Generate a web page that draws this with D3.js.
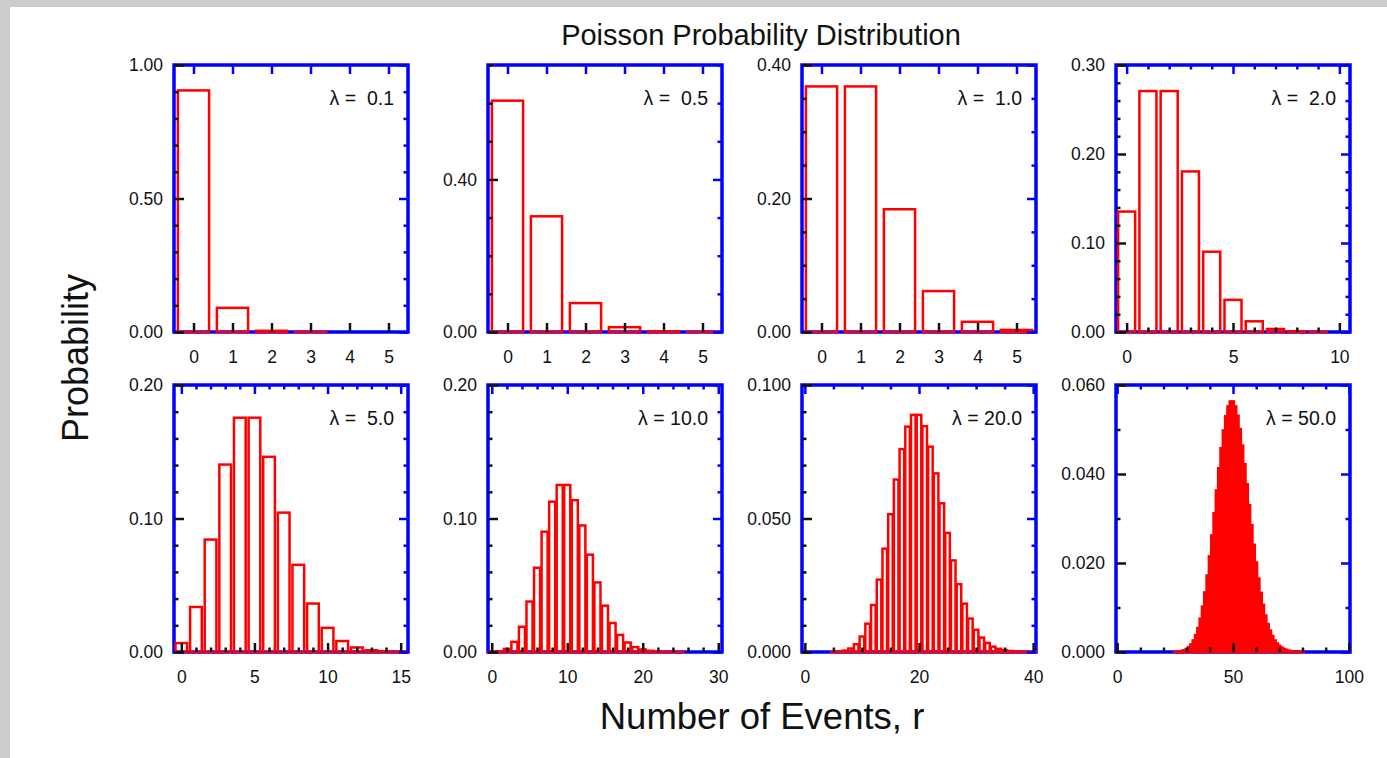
<!DOCTYPE html>
<html>
<head>
<meta charset="utf-8">
<script src="https://cdn.jsdelivr.net/npm/d3@7"></script>
<style>
  body { margin: 0; background: #fff; }
  text { font-family: "Liberation Sans", Arial, Helvetica, sans-serif; }
</style>
</head>
<body>
<script>
/* DATA */
const lambdas = [0.1, 0.5, 1.0, 2.0, 5.0, 10.0, 20.0, 50.0];
const lambdaLabels = ["\u03bb =  0.1", "\u03bb =  0.5", "\u03bb =  1.0", "\u03bb =  2.0",
                      "\u03bb =  5.0", "\u03bb = 10.0", "\u03bb = 20.0", "\u03bb = 50.0"];

// first r value of each probability list
const firstR = [0, 0, 0, 0, 0, 0, 5, 25];

const prob01 = [0.9048, 0.0905, 0.0045, 0.0002, 0.0000, 0.0000];
const prob05 = [0.6065, 0.3033, 0.0758, 0.0126, 0.0016, 0.0002];
const prob1 = [0.3679, 0.3679, 0.1839, 0.0613, 0.0153, 0.0031];
const prob2 = [0.1353, 0.2707, 0.2707, 0.1804, 0.0902, 0.0361, 0.0120, 0.0034, 0.0009, 0.0002, 0.0000];
const prob5 = [0.0067, 0.0337, 0.0842, 0.1404, 0.1755, 0.1755, 0.1462, 0.1044, 0.0653, 0.0363,
               0.0181, 0.0082, 0.0034, 0.0013, 0.0005, 0.0002];
const prob10 = [0.00005, 0.0005, 0.0023, 0.0076, 0.0189, 0.0378, 0.0631, 0.0901, 0.1126, 0.1251,
                0.1251, 0.1137, 0.0948, 0.0729, 0.0521, 0.0347, 0.0217, 0.0128, 0.0071, 0.0037,
                0.0019, 0.0009, 0.0004, 0.0002, 0.0001, 0.00003];
const prob20 = [0.00005, 0.00018, 0.00052, 0.0013, 0.0029, 0.0058, 0.0106, 0.0176, 0.0271, 0.0387,
                0.0516, 0.0646, 0.0760, 0.0844, 0.0888, 0.0888, 0.0846, 0.0769, 0.0669, 0.0557,
                0.0446, 0.0343, 0.0254, 0.0181, 0.0125, 0.0083, 0.0054, 0.0034, 0.0020, 0.0012,
                0.0007, 0.0004, 0.0002, 0.0001, 0.00006, 0.00003];
const prob50 = [0.00004, 0.00007, 0.00013, 0.00024, 0.00041, 0.00068, 0.0011, 0.0017, 0.0026, 0.0038,
                0.0054, 0.0075, 0.0102, 0.0134, 0.0172, 0.0215, 0.0262, 0.0312, 0.0363, 0.0413,
                0.0458, 0.0498, 0.0530, 0.0552, 0.0563, 0.0563, 0.0552, 0.0531, 0.0501, 0.0464,
                0.0422, 0.0377, 0.0330, 0.0285, 0.0241, 0.0201, 0.0165, 0.0133, 0.0106, 0.0082,
                0.0063, 0.0048, 0.0036, 0.0026, 0.0019, 0.0014, 0.0010, 0.0007, 0.0005, 0.0003,
                0.0002, 0.00014, 0.00009, 0.00006, 0.00004, 0.00002];
const probs = [prob01, prob05, prob1, prob2, prob5, prob10, prob20, prob50];

// axis ranges and ticks
const xMax = [5, 5, 5, 10, 15, 30, 40, 100];
const xMajor = [[0, 1, 2, 3, 4, 5], [0, 1, 2, 3, 4, 5], [0, 1, 2, 3, 4, 5], [0, 5, 10],
                [0, 5, 10, 15], [0, 10, 20, 30], [0, 20, 40], [0, 50, 100]];
const xMinorStep = [1, 1, 1, 1, 1, 2, 5, 10];
const yMax = [1.0, 0.7, 0.4, 0.3, 0.2, 0.2, 0.1, 0.06];
const yMajor = [[0, 0.5, 1.0], [0, 0.4], [0, 0.2, 0.4], [0, 0.1, 0.2, 0.3],
                [0, 0.1, 0.2], [0, 0.1, 0.2], [0, 0.05, 0.1], [0, 0.02, 0.04, 0.06]];
const yMinorStep = [0.1, 0.1, 0.05, 0.02, 0.02, 0.02, 0.01, 0.01];
const yDecimals = [2, 2, 2, 2, 2, 2, 3, 3];

/* LAYOUT */
const width = 1387, height = 758;
const colX = [174, 488, 802, 1116], rowY = [65, 385];
const pw = 234, ph = 267;
const BLUE = "#0000ff", RED = "#ff0000";

const svg = d3.select("body").append("svg")
  .attr("width", width)
  .attr("height", height);

svg.append("rect").attr("width", width).attr("height", height).attr("fill", "#cccccc");
svg.append("rect").attr("x", 10).attr("y", 7)
  .attr("width", width - 10).attr("height", height - 7).attr("fill", "#ffffff");

const near = (a, list) => list.some(m => Math.abs(m - a) < 1e-9);

probs.forEach((values, i) => {
  const left = colX[i % 4], top = rowY[Math.floor(i / 4)];
  const x = d3.scaleLinear().domain([-0.5, xMax[i] + 0.5]).range([left, left + pw]);
  const y = d3.scaleLinear().domain([0, yMax[i]]).range([top + ph, top]);

  const xMinor = d3.range(0, xMax[i] + 1e-9, xMinorStep[i]).filter(v => !near(v, xMajor[i]));
  const yMinor = d3.range(0, Math.round(yMax[i] / yMinorStep[i]) + 1)
    .map(k => +(k * yMinorStep[i]).toFixed(4))
    .filter(v => !near(v, yMajor[i]));

  const g = svg.append("g").attr("class", "panel");

  // frame
  g.append("rect")
    .attr("x", left).attr("y", top)
    .attr("width", pw).attr("height", ph)
    .attr("fill", "none")
    .attr("stroke", BLUE)
    .attr("stroke-width", 3.5);

  // bars
  const data = values.map((v, k) => ({ r: firstR[i] + k, p: v }));
  g.selectAll("rect.bar")
    .data(data)
    .join("rect")
    .attr("class", "bar")
    .attr("x", d => x(d.r - 0.4))
    .attr("width", d => x(d.r + 0.4) - x(d.r - 0.4))
    .attr("y", d => y(d.p))
    .attr("height", d => y(0) - y(d.p))
    .attr("fill", "none")
    .attr("stroke", RED)
    .attr("stroke-width", 2.5);

  const styleAxis = (sel, color) => {
    sel.attr("color", color)
      .attr("font-size", 17.5)
      .attr("font-family", "'Liberation Sans', Arial, Helvetica, sans-serif");
    sel.select(".domain").remove();
    sel.selectAll("line").attr("stroke-width", 2.5);
  };

  // bottom (black, labelled)
  g.append("g").attr("transform", `translate(0,${top + ph})`)
    .call(d3.axisBottom(x).tickValues(xMajor[i]).tickSize(-9).tickPadding(19).tickFormat(d3.format("d")))
    .call(s => styleAxis(s, "#111"));
  g.append("g").attr("transform", `translate(0,${top + ph})`)
    .call(d3.axisBottom(x).tickValues(xMinor).tickSize(-4.5).tickFormat(""))
    .call(s => styleAxis(s, "#111"));

  // top (blue)
  g.append("g").attr("transform", `translate(0,${top})`)
    .call(d3.axisTop(x).tickValues(xMajor[i]).tickSize(-9).tickFormat(""))
    .call(s => styleAxis(s, BLUE));
  g.append("g").attr("transform", `translate(0,${top})`)
    .call(d3.axisTop(x).tickValues(xMinor).tickSize(-4.5).tickFormat(""))
    .call(s => styleAxis(s, BLUE));

  // left (black, labelled)
  g.append("g").attr("transform", `translate(${left},0)`)
    .call(d3.axisLeft(y).tickValues(yMajor[i]).tickSize(-10).tickPadding(11)
      .tickFormat(d3.format(`.${yDecimals[i]}f`)))
    .call(s => styleAxis(s, "#111"));
  g.append("g").attr("transform", `translate(${left},0)`)
    .call(d3.axisLeft(y).tickValues(yMinor).tickSize(-4.5).tickFormat(""))
    .call(s => styleAxis(s, "#111"));

  // right (blue)
  g.append("g").attr("transform", `translate(${left + pw},0)`)
    .call(d3.axisRight(y).tickValues(yMajor[i]).tickSize(-9).tickFormat(""))
    .call(s => styleAxis(s, BLUE));
  g.append("g").attr("transform", `translate(${left + pw},0)`)
    .call(d3.axisRight(y).tickValues(yMinor).tickSize(-4.5).tickFormat(""))
    .call(s => styleAxis(s, BLUE));

  // lambda label
  g.append("text")
    .attr("x", left + pw - 14)
    .attr("y", top + 40)
    .attr("text-anchor", "end")
    .attr("font-size", 19.5)
    .attr("fill", "#111")
    .style("white-space", "pre")
    .text(lambdaLabels[i]);
});

// titles
svg.append("text")
  .attr("x", 761).attr("y", 45)
  .attr("text-anchor", "middle")
  .attr("font-size", 29)
  .attr("fill", "#111")
  .text("Poisson Probability Distribution");

svg.append("text")
  .attr("x", 762).attr("y", 729)
  .attr("text-anchor", "middle")
  .attr("font-size", 36.5)
  .attr("fill", "#111")
  .text("Number of Events, r");

svg.append("text")
  .attr("transform", "translate(88,358) rotate(-90)")
  .attr("text-anchor", "middle")
  .attr("font-size", 36)
  .attr("fill", "#111")
  .text("Probability");
</script>
</body>
</html>
